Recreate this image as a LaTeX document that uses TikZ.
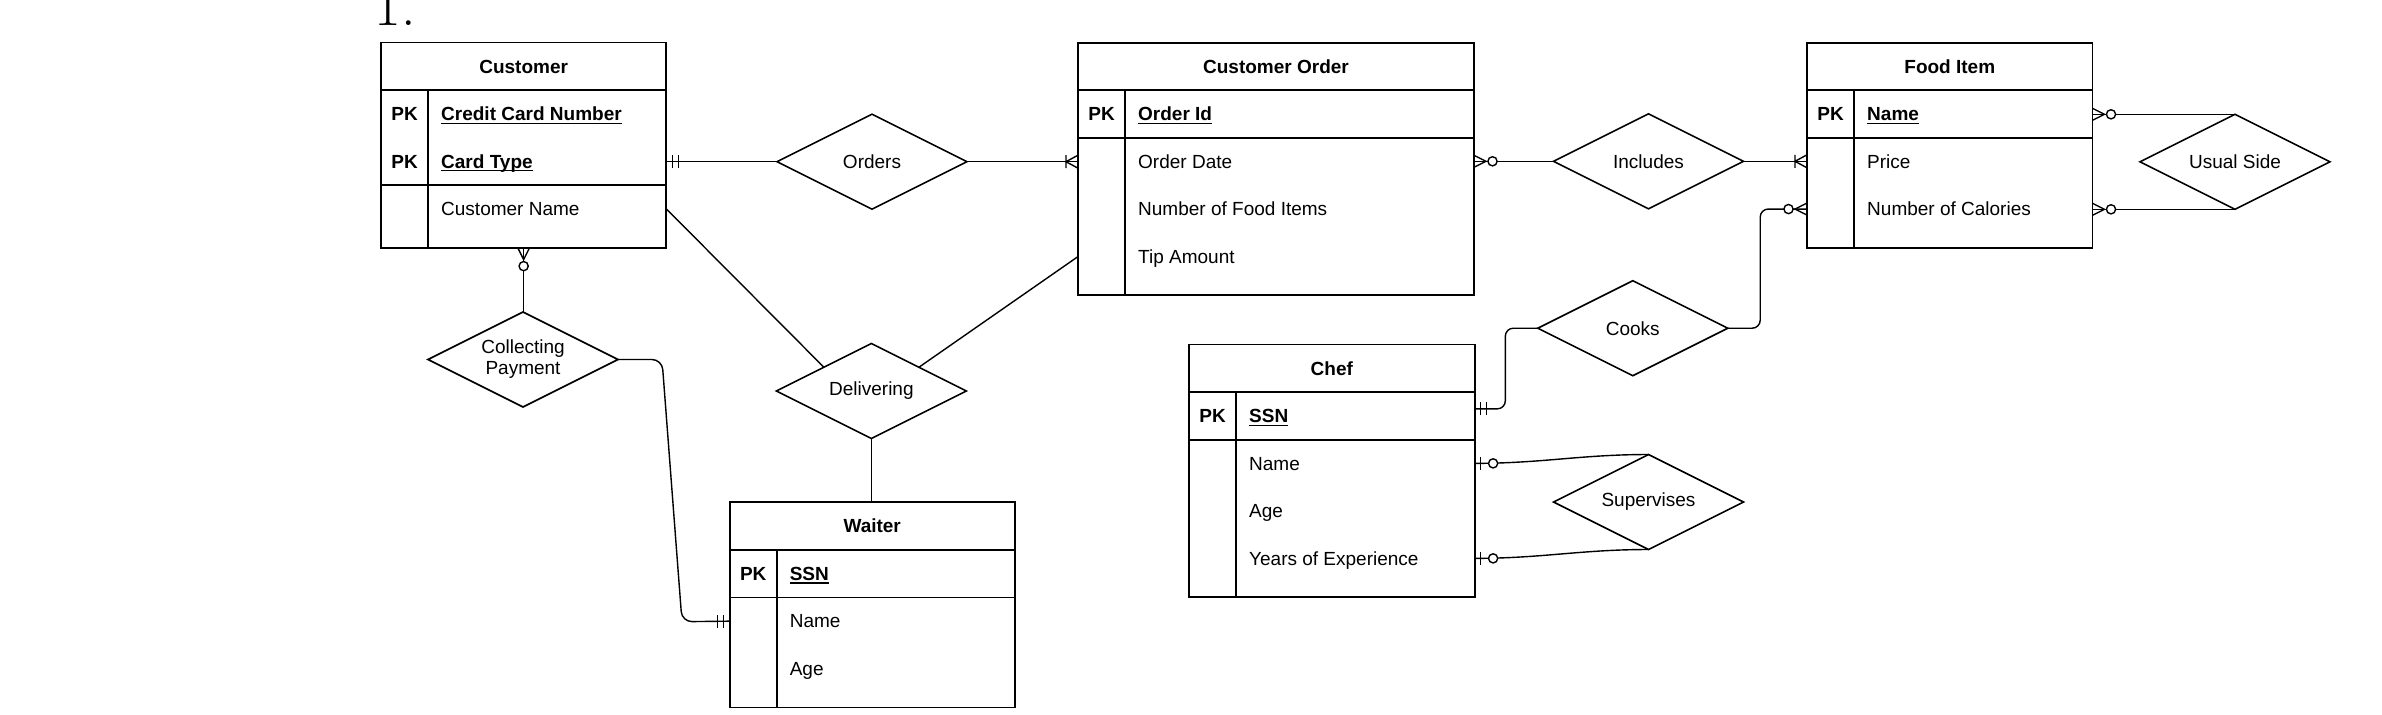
\documentclass[tikz,border=0pt]{standalone}
\usepackage{fontspec}
\setsansfont{Liberation Sans}
\usetikzlibrary{calc,fit,shapes.geometric}
\newcommand\keyul[1]{\setbox0\hbox{#1}\rlap{\rule[-1.6pt]{\wd0}{0.6pt}}\box0}
\newcommand\ertable[6]{%
 \pgfmathsetmacro\erB{#3+62.6+47.5*#6}%
 \pgfmathsetmacro\erH{#3+47.6}%
 \pgfmathsetmacro\erK{\erH+47.5*#5}%
 \pgfmathsetmacro\erP{#2+47.3}%
 \pgfmathsetmacro\erPc{#2+23.65}%
 \pgfmathsetmacro\erR{#2+#4}%
 \pgfmathsetmacro\erC{#2+#4/2}%
 \node[tbl, fit={(#2,#3) (\erR,\erB)}] (#1) {};%
 \draw[tbl] (#2,\erH) -- (\erR,\erH) (#2,\erK) -- (\erR,\erK) (\erP,\erH) -- (\erP,\erB);%
}
\newcommand\ertitle[2]{\node[hdr] (#1t) at (\erC,\erH-23.8) {#2};}
\newcommand\erkey[3]{\node[pk] (#1k#2) at (\erPc,\erH+23.75+47.5*#2) {PK};%
 \node[attr] (#1r#2) at (\erP+12.5,\erH+23.75+47.5*#2) {\bfseries\keyul{#3}};}
\newcommand\erattr[3]{\node[attr] (#1r#2) at (\erP+12.5,\erH+23.75+47.5*#2) {#3};}
\begin{document}
\begin{tikzpicture}[x=0.5pt,y=-0.5pt,
  tbl/.style={draw, line width=0.9pt, inner sep=0pt, outer sep=0pt},
  conn/.style={line width=0.7pt},
  mk/.style={line width=0.7pt},
  rel/.style={draw, diamond, shape aspect=2, line width=0.8pt, minimum width=95pt, minimum height=47.5pt,
    inner sep=0pt, outer sep=0pt, align=center, font=\sffamily\fontsize{9.5}{10.5}\selectfont},
  attr/.style={anchor=west, inner sep=0pt, text height=6.8pt, text depth=0pt,
    font=\sffamily\fontsize{9.5}{11}\selectfont},
  pk/.style={anchor=center, inner sep=0pt, text height=6.8pt, text depth=0pt,
    font=\sffamily\bfseries\fontsize{9.5}{11}\selectfont},
  hdr/.style={pk},
  mone/.pic={\draw[mk] (6,-6.5)--(6,6.5) (12,-6.5)--(12,6.5);},
  onemany/.pic={\draw[mk] (0,-6.5)--(12,0)--(0,6.5) (12,-6.5)--(12,6.5);},
  zmany/.pic={\draw[mk] (0,-6)--(12,0)--(0,6); \draw[mk,fill=white] (18.5,0) circle[radius=2.3pt];},
  zone/.pic={\draw[mk] (6,-6.5)--(6,6.5); \draw[mk,fill=white] (18.5,0) circle[radius=2.3pt];}
]
\useasboundingbox (0,0) rectangle (2382,714);
\node[font=\fontsize{29}{29}\selectfont, anchor=base west, inner sep=0pt] (num) at (374,25) {1.};

% tables
\ertable{cust}{381}{42.5}{285.3}{2}{3}
\ertitle{cust}{Customer}
\erkey{cust}{0}{Credit Card Number}
\erkey{cust}{1}{Card Type}
\erattr{cust}{2}{Customer Name}

\ertable{co}{1078}{42.7}{396}{1}{4}
\ertitle{co}{Customer Order}
\erkey{co}{0}{Order Id}
\erattr{co}{1}{Order Date}
\erattr{co}{2}{Number of Food Items}
\erattr{co}{3}{Tip Amount}

\ertable{fi}{1807}{42.7}{285.5}{1}{3}
\ertitle{fi}{Food Item}
\erkey{fi}{0}{Name}
\erattr{fi}{1}{Price}
\erattr{fi}{2}{Number of Calories}

\ertable{chef}{1189}{344.5}{285.6}{1}{4}
\ertitle{chef}{Chef}
\erkey{chef}{0}{SSN}
\erattr{chef}{1}{Name}
\erattr{chef}{2}{Age}
\erattr{chef}{3}{Years of Experience}

\ertable{waiter}{729.6}{502.3}{285.2}{1}{3}
\ertitle{waiter}{Waiter}
\erkey{waiter}{0}{SSN}
\erattr{waiter}{1}{Name}
\erattr{waiter}{2}{Age}

% relationships
\node[rel] (ord) at (872,161.7) {Orders};
\node[rel] (inc) at (1648.5,161.3) {Includes};
\node[rel] (us) at (2235,161.8) {Usual Side};
\node[rel] (cp) at (523,359.5) {Collecting\\Payment};
\node[rel] (del) at (871.4,391) {Delivering};
\node[rel] (cooks) at (1632.8,328.2) {Cooks};
\node[rel] (sup) at (1648.5,502) {Supervises};

% waypoints
\coordinate (chefA) at ($(chef.east |- chefr0)+(0,-7)$);
\coordinate (cpA) at (662,359.5);
\coordinate (cpB) at (682,621.7);

% connectors
\draw[conn] (cust.east |- ord.west) -- (ord.west);
\draw[conn] (ord.east) -- (co.west |- ord.east);
\draw[conn] (co.east |- inc.west) -- (inc.west);
\draw[conn] (inc.east) -- (fi.west |- inc.east);
\draw[conn] (fi.east |- us.north) -- (us.north);
\draw[conn] (fi.east |- us.south) -- (us.south);
\draw[conn, rounded corners=4pt] (cooks.east) -- ++(32.4,0) |- (fi.west |- fir2);
\draw[conn, rounded corners=4pt] (chefA) -- ++(30.7,0) |- (cooks.west);
\draw[conn] (chef.east |- chefr1) to[out=0,in=180] (sup.north);
\draw[conn] (chef.east |- chefr3) to[out=0,in=180] (sup.south);
\draw[conn] (cust.south) -- (cust.south |- cp.north);
\draw[conn, rounded corners=5pt] (cp.east) -- (cpA) -- (cpB) -- (waiter.west |- waiterr1);
\draw[conn] (cust.east |- custr2) -- (del.north west);
\draw[conn] (co.west |- cor3) -- (del.north east);
\draw[conn] (del.south) -- (del.south |- waiter.north);

% cardinality marks
\path (cust.east |- ord.west) pic {mone};
\path (co.west |- ord.east) pic[rotate=180] {onemany};
\path (co.east |- inc.west) pic {zmany};
\path (fi.west |- inc.east) pic[rotate=180] {onemany};
\path (fi.east |- us.north) pic {zmany};
\path (fi.east |- us.south) pic {zmany};
\path (fi.west |- fir2) pic[rotate=180] {zmany};
\path (chefA) pic {mone};
\path (chef.east |- chefr1) pic {zone};
\path (chef.east |- chefr3) pic {zone};
\path (cust.south) pic[rotate=-90] {zmany};
\path (waiter.west |- waiterr1) pic[rotate=180] {mone};
\end{tikzpicture}
\end{document}
